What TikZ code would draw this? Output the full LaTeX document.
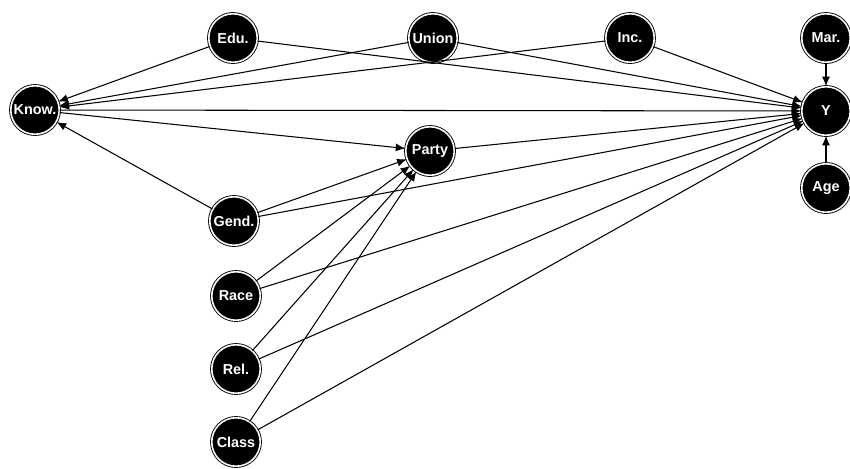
\documentclass[tikz,border=0pt]{standalone}
\usepackage{fontspec}
\setsansfont{Liberation Sans}
\usetikzlibrary{arrows.meta}
\begin{document}
\begin{tikzpicture}[x=0.02cm,y=-0.02cm,
  var/.style={circle,fill=black,draw=black,double=white,double distance=0.9pt,
    line width=0.5pt,minimum size=0.97cm,inner sep=0pt,text=white,
    font=\sffamily\bfseries\fontsize{8.2}{10}\selectfont},
  edge/.style={line width=0.6pt,-{Latex[length=5.5pt,width=4.5pt]}}]
\useasboundingbox (0,0) rectangle (850,468);
\node [var] (know) at (35,110) {Know.};
\node [var] (edu) at (233,38) {Edu.};
\node [var] (union) at (433,38) {Union};
\node [var] (inc) at (630,38) {Inc.};
\node [var] (mar) at (826,38) {Mar.};
\node [var] (y) at (826,111) {Y};
\node [var] (age) at (826,188) {Age};
\node [var] (party) at (430,151) {Party};
\node [var] (gend) at (234,221) {Gend.};
\node [var] (race) at (236,296) {Race};
\node [var] (rel) at (236,369) {Rel.};
\node [var] (class) at (236,442) {Class};
% into knowledge
\draw [edge] (edu) -- (know);
\draw [edge] (union) -- (know);
\draw [edge] (inc) -- (know);
\draw [edge] (gend) -- (know);
% into party
\draw [edge] (know) -- (party);
\draw [edge] (gend) -- (party);
\draw [edge] (race) -- (party);
\draw [edge] (rel) -- (party);
\draw [edge] (class) -- (party);
% into Y
\draw [edge] (know) -- (y);
\draw [edge] (edu) -- (y);
\draw [edge] (union) -- (y);
\draw [edge] (inc) -- (y);
\draw [edge] (party) -- (y);
\draw [edge] (gend) -- (y);
\draw [edge] (race) -- (y);
\draw [edge] (rel) -- (y);
\draw [edge] (class) -- (y);
\draw [edge] (mar) -- (y);
\draw [edge] (age) -- (y);
\end{tikzpicture}
\end{document}
